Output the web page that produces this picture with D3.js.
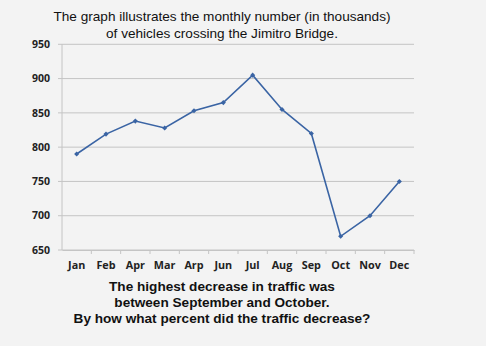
<!DOCTYPE html>
<html>
<head>
<meta charset="utf-8">
<script src="https://cdn.jsdelivr.net/npm/d3@7/dist/d3.min.js"></script>
<style>
  html, body { margin: 0; padding: 0; background: #f3f3f3; }
  svg { display: block; }
</style>
</head>
<body>
<svg id="chart" width="486" height="346"></svg>
<script>
// Monthly vehicles crossing the bridge (thousands)
const months = ["Jan", "Feb", "Apr", "Mar", "Arp", "Jun", "Jul", "Aug", "Sep", "Oct", "Nov", "Dec"];
const vehicles = [790, 819, 838, 828, 853, 865, 905, 855, 820, 670, 700, 750];
const yTicks = [650, 700, 750, 800, 850, 900, 950];
const titleLines = ["The graph illustrates the monthly number (in thousands)", "of vehicles crossing the Jimitro Bridge."];
const questionLines = ["The highest decrease in traffic was", "between September and October.", "By how what percent did the traffic decrease?"];

const svg = d3.select("#chart");
const W = 486, H = 346;
const plot = { left: 62, right: 414, top: 44.3, bottom: 250 };

svg.append("rect").attr("width", W).attr("height", H).attr("fill", "#f3f3f3");

const x = d3.scaleBand().domain(months).range([plot.left, plot.right]);
const y = d3.scaleLinear().domain([650, 950]).range([plot.bottom, plot.top]);

// horizontal gridlines
svg.append("g")
  .selectAll("line")
  .data(yTicks)
  .join("line")
  .attr("x1", plot.left - 4).attr("x2", plot.right)
  .attr("y1", d => y(d)).attr("y2", d => y(d))
  .attr("stroke", "#c4c4c4").attr("stroke-width", 1);

// y axis line
svg.append("line")
  .attr("x1", plot.left).attr("x2", plot.left)
  .attr("y1", plot.top).attr("y2", plot.bottom)
  .attr("stroke", "#c4c4c4").attr("stroke-width", 1);

// y tick labels
svg.append("g")
  .selectAll("text")
  .data(yTicks)
  .join("text")
  .attr("x", 50).attr("y", d => y(d))
  .attr("dy", "0.35em")
  .attr("text-anchor", "end")
  .attr("font-family", "'Open Sans', 'Liberation Sans', sans-serif")
  .attr("font-weight", "bold")
  .attr("font-size", 10.5)
  .attr("fill", "#222")
  .text(d => d);

// x axis with category-boundary ticks
const xAxis = d3.axisBottom(x).tickSize(0).tickPadding(11);
const gx = svg.append("g").attr("transform", `translate(0,${plot.bottom})`).call(xAxis);
gx.select(".domain").attr("stroke", "#c4c4c4");
gx.selectAll("text")
  .attr("font-family", "'Open Sans', 'Liberation Sans', sans-serif")
  .attr("font-weight", "bold")
  .attr("font-size", 10.8)
  .attr("fill", "#222");
gx.selectAll(".boundary")
  .data(months)
  .join("line")
  .attr("class", "boundary")
  .attr("x1", d => x(d) + x.bandwidth()).attr("x2", d => x(d) + x.bandwidth())
  .attr("y1", 0).attr("y2", 4)
  .attr("stroke", "#c4c4c4");

// data line
const line = d3.line()
  .x((d, i) => x(months[i]) + x.bandwidth() / 2)
  .y(d => y(d));

svg.append("path")
  .datum(vehicles)
  .attr("d", line)
  .attr("fill", "none")
  .attr("stroke", "#3a64a4")
  .attr("stroke-width", 1.6);

svg.append("g")
  .selectAll("rect")
  .data(vehicles)
  .join("rect")
  .attr("x", (d, i) => x(months[i]) + x.bandwidth() / 2 - 1.8)
  .attr("y", d => y(d) - 1.8)
  .attr("width", 3.6).attr("height", 3.6)
  .attr("transform", (d, i) => `rotate(45, ${x(months[i]) + x.bandwidth() / 2}, ${y(d)})`)
  .attr("fill", "#3a64a4");

// title
svg.append("g")
  .selectAll("text")
  .data(titleLines)
  .join("text")
  .attr("x", 222).attr("y", (d, i) => 20.5 + i * 17)
  .attr("text-anchor", "middle")
  .attr("font-family", "'Liberation Sans', Arial, sans-serif")
  .attr("font-size", 13.6)
  .attr("fill", "#111")
  .text(d => d);

// question text
svg.append("g")
  .selectAll("text")
  .data(questionLines)
  .join("text")
  .attr("x", 222).attr("y", (d, i) => 290.5 + i * 16.2)
  .attr("text-anchor", "middle")
  .attr("font-family", "'Liberation Sans', Arial, sans-serif")
  .attr("font-weight", "bold")
  .attr("font-size", 13.6)
  .attr("fill", "#111")
  .text(d => d);
</script>
</body>
</html>
